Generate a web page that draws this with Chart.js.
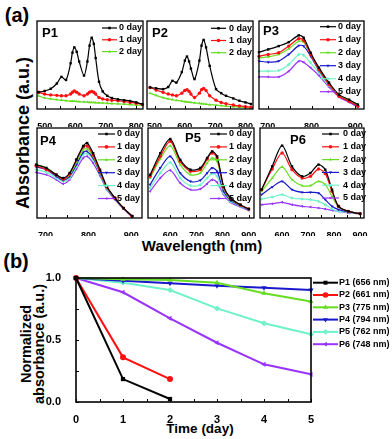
<!DOCTYPE html>
<html>
<head>
<meta charset="utf-8">
<script src="https://cdn.jsdelivr.net/npm/chart.js@4.4.1/dist/chart.umd.min.js"></script>
<style>
  html, body { margin: 0; padding: 0; background: #fff; }
  body { width: 392px; height: 439px; position: relative; overflow: hidden;
         font-family: 'Liberation Sans', Arial, sans-serif; font-weight: bold; color: #000; }
  canvas { position: absolute; }
  .lbl { position: absolute; white-space: nowrap; transform: translate(-50%, -50%); }
  .rot { transform: translate(-50%, -50%) rotate(-90deg); text-align: center; }
</style>
</head>
<body>
<div class="lbl" style="left:17px;top:15px;font-size:20px">(a)</div>
<div class="lbl" style="left:16px;top:261px;font-size:20px">(b)</div>
<div class="lbl rot" style="left:23px;top:133px;font-size:18px">Absorbance (a.u.)</div>
<div class="lbl" style="left:202px;top:245px;font-size:15px">Wavelength (nm)</div>
<div class="lbl" style="left:200px;top:428px;font-size:13.5px">Time (day)</div>
<div class="lbl rot" style="left:33px;top:344px;font-size:14.5px;line-height:13px">Normalized<br>absorbance (a.u.)</div>
<canvas id="p1"></canvas>
<canvas id="p2"></canvas>
<canvas id="p3"></canvas>
<canvas id="p4"></canvas>
<canvas id="p5"></canvas>
<canvas id="p6"></canvas>
<canvas id="decay"></canvas>
<script>
// ---- data (a): absorbance spectra, fraction of panel height ----
const dayLabels = ['0 day', '1 day', '2 day', '3 day', '4 day', '5 day'];

const p1Wl = [480, 500, 520, 540, 555, 570, 585, 591, 597, 605, 613, 629, 640, 647, 654, 661, 667, 678, 690, 705, 720, 740, 760, 780, 800, 820];
const p1Abs = [
    [0.19, 0.205, 0.23, 0.29, 0.365, 0.33, 0.52, 0.64, 0.70, 0.65, 0.54, 0.38, 0.54, 0.72, 0.81, 0.74, 0.58, 0.31, 0.20, 0.15, 0.125, 0.11, 0.10, 0.09, 0.075, 0.055],
    [0.19, 0.17, 0.16, 0.155, 0.15, 0.15, 0.17, 0.19, 0.205, 0.19, 0.17, 0.15, 0.17, 0.19, 0.20, 0.19, 0.17, 0.13, 0.115, 0.105, 0.10, 0.095, 0.085, 0.075, 0.065, 0.05],
    [0.15, 0.125, 0.115, 0.105, 0.10, 0.095, 0.09, 0.089, 0.088, 0.086, 0.084, 0.08, 0.078, 0.076, 0.075, 0.074, 0.072, 0.07, 0.068, 0.065, 0.062, 0.058, 0.055, 0.05, 0.045, 0.04]
];
const p1Ticks = [500, 600, 700, 800];

const p2Wl = [485, 505, 528, 545, 559, 572, 590, 600, 607, 614, 620, 632, 648, 655, 662, 670, 682, 703, 720, 736, 760, 780, 800, 818];
const p2Abs = [
    [0.245, 0.235, 0.226, 0.25, 0.32, 0.30, 0.42, 0.55, 0.596, 0.54, 0.46, 0.34, 0.55, 0.72, 0.785, 0.70, 0.49, 0.226, 0.18, 0.15, 0.12, 0.094, 0.075, 0.057],
    [0.245, 0.215, 0.19, 0.17, 0.16, 0.15, 0.18, 0.21, 0.22, 0.20, 0.17, 0.13, 0.18, 0.22, 0.234, 0.21, 0.15, 0.10, 0.075, 0.06, 0.045, 0.035, 0.027, 0.02],
    [0.18, 0.155, 0.13, 0.115, 0.105, 0.098, 0.09, 0.083, 0.08, 0.077, 0.075, 0.07, 0.064, 0.061, 0.058, 0.055, 0.05, 0.043, 0.038, 0.033, 0.027, 0.02, 0.015, 0.01]
];
const p2Ticks = [500, 600, 700, 800];

const p3Wl = [680, 701, 725, 748, 771, 782, 798, 817, 840, 863, 886, 906];
const p3Abs = [
    [0.646, 0.677, 0.715, 0.76, 0.837, 0.81, 0.64, 0.47, 0.30, 0.163, 0.106, 0.05],
    [0.60, 0.62, 0.64, 0.715, 0.80, 0.78, 0.62, 0.45, 0.28, 0.145, 0.087, 0.03],
    [0.58, 0.593, 0.62, 0.684, 0.77, 0.76, 0.62, 0.45, 0.28, 0.152, 0.095, 0.05],
    [0.544, 0.532, 0.544, 0.62, 0.72, 0.715, 0.60, 0.437, 0.28, 0.145, 0.087, 0.03],
    [0.43, 0.43, 0.437, 0.506, 0.62, 0.61, 0.525, 0.41, 0.266, 0.152, 0.095, 0.038],
    [0.365, 0.365, 0.365, 0.43, 0.544, 0.532, 0.468, 0.38, 0.25, 0.137, 0.076, 0.023]
];
const p3Ticks = [700, 800, 900];

const p4Wl = [678, 702, 725, 741, 756, 772, 788, 797, 811, 827, 843, 862, 882, 902];
const p4Abs = [
    [0.593, 0.556, 0.48, 0.444, 0.50, 0.648, 0.80, 0.833, 0.72, 0.537, 0.35, 0.222, 0.11, 0.02],
    [0.58, 0.537, 0.48, 0.433, 0.49, 0.648, 0.79, 0.80, 0.70, 0.52, 0.344, 0.222, 0.11, 0.02],
    [0.593, 0.556, 0.48, 0.433, 0.48, 0.62, 0.76, 0.767, 0.685, 0.507, 0.333, 0.222, 0.107, 0.02],
    [0.567, 0.537, 0.463, 0.42, 0.463, 0.593, 0.73, 0.74, 0.667, 0.50, 0.333, 0.211, 0.107, 0.02],
    [0.537, 0.507, 0.444, 0.407, 0.444, 0.574, 0.704, 0.715, 0.648, 0.493, 0.322, 0.211, 0.107, 0.02],
    [0.507, 0.48, 0.426, 0.38, 0.426, 0.544, 0.667, 0.685, 0.61, 0.47, 0.315, 0.204, 0.10, 0.011]
];
const p4Ticks = [700, 800, 900];

const p5Wl = [523, 562, 600, 638, 677, 715, 741, 760, 779, 804, 830, 868, 900];
const p5Abs = [
    [0.48, 0.72, 0.878, 0.648, 0.537, 0.556, 0.667, 0.74, 0.685, 0.352, 0.222, 0.148, 0.10],
    [0.463, 0.685, 0.852, 0.63, 0.52, 0.537, 0.656, 0.722, 0.667, 0.344, 0.219, 0.144, 0.10],
    [0.444, 0.656, 0.804, 0.593, 0.481, 0.50, 0.611, 0.667, 0.63, 0.333, 0.211, 0.14, 0.10],
    [0.37, 0.556, 0.685, 0.50, 0.407, 0.419, 0.50, 0.556, 0.519, 0.296, 0.196, 0.137, 0.093],
    [0.333, 0.50, 0.618, 0.444, 0.36, 0.37, 0.444, 0.493, 0.463, 0.278, 0.185, 0.13, 0.093],
    [0.296, 0.444, 0.53, 0.389, 0.315, 0.322, 0.381, 0.426, 0.396, 0.26, 0.174, 0.122, 0.085]
];
const p5Ticks = [600, 700, 800, 900];

const p6Wl = [521, 562, 600, 638, 677, 709, 740, 766, 792, 817, 855, 900];
const p6Abs = [
    [0.315, 0.574, 0.804, 0.574, 0.463, 0.50, 0.593, 0.537, 0.315, 0.13, 0.074, 0.048],
    [0.315, 0.544, 0.722, 0.537, 0.444, 0.463, 0.544, 0.493, 0.296, 0.13, 0.074, 0.048],
    [0.296, 0.444, 0.567, 0.426, 0.36, 0.36, 0.407, 0.37, 0.24, 0.122, 0.074, 0.048],
    [0.26, 0.344, 0.407, 0.315, 0.285, 0.285, 0.278, 0.204, 0.13, 0.093, 0.07, 0.048],
    [0.211, 0.233, 0.26, 0.222, 0.211, 0.204, 0.185, 0.148, 0.10, 0.074, 0.063, 0.044],
    [0.148, 0.159, 0.174, 0.148, 0.13, 0.122, 0.111, 0.10, 0.085, 0.074, 0.056, 0.044]
];
const p6Ticks = [600, 700, 800, 900];

// ---- data (b): normalized absorbance vs time ----
const timeDays = [0, 1, 2, 3, 4, 5];
const decayLabels = ['P1 (656 nm)', 'P2 (661 nm)', 'P3 (775 nm)', 'P4 (794 nm)', 'P5 (762 nm)', 'P6 (748 nm)'];
const decayP1 = [1, 0.185, 0.024];
const decayP2 = [1, 0.36, 0.185];
const decayP3 = [1, 0.99, 0.984, 0.962, 0.877, 0.81];
const decayP4 = [1, 0.978, 0.957, 0.938, 0.922, 0.903];
const decayP5 = [1, 0.962, 0.903, 0.755, 0.635, 0.546];
const decayP6 = [1, 0.885, 0.675, 0.478, 0.304, 0.223];
const decayTicksX = [0, 1, 2, 3, 4, 5];
const decayTicksY = [0, 0.5, 1];

// ---- styles ----
const colors = ['#000000', '#ff1010', '#66dd22', '#1a1acc', '#70f2c8', '#9933ff'];
const markers = ['rect', 'circle', 'triangle', 'triangle', 'rectRot', 'triangle'];
const markerRot = [0, 0, 0, 180, 0, -90];
const FONT = "'Liberation Sans', Arial, sans-serif";

function drawMarker(ctx, style, rot, r, x, y) {
    if (Chart.helpers && Chart.helpers.drawPoint) {
        Chart.helpers.drawPoint(ctx, {pointStyle: style, rotation: rot, radius: r, borderWidth: 0}, x, y);
    } else {
        ctx.beginPath(); ctx.arc(x, y, r, 0, Math.PI * 2); ctx.fill();
    }
}

// box, inward ticks, panel tag and legend
const framePlugin = {
    id: 'frame',
    afterDatasetsDraw(chart, args, o) {
        const {ctx, chartArea: a, scales: {x, y}} = chart;
        ctx.save();
        ctx.strokeStyle = '#000';
        ctx.lineWidth = o.lineWidth;
        ctx.strokeRect(a.left, a.top, a.right - a.left, a.bottom - a.top);
        ctx.lineWidth = 1;
        ctx.beginPath();
        for (let v = Math.ceil(x.min / o.xStep - 1e-9) * o.xStep; v <= x.max + 1e-9; v += o.xStep) {
            const px = Math.round(x.getPixelForValue(v)) + 0.5;
            ctx.moveTo(px, a.bottom); ctx.lineTo(px, a.bottom - o.len);
        }
        if (o.yStep) {
            for (let v = y.min; v <= y.max + 1e-9; v += o.yStep) {
                const py = Math.round(y.getPixelForValue(v)) + 0.5;
                ctx.moveTo(a.left, py); ctx.lineTo(a.left + o.len, py);
            }
        }
        ctx.stroke();
        ctx.fillStyle = '#000';
        ctx.textBaseline = 'middle';
        ctx.textAlign = 'left';
        if (o.tag) {
            ctx.font = 'bold 13px ' + FONT;
            ctx.fillText(o.tag.text, a.left + o.tag.x, a.top + o.tag.y);
        }
        const L = o.legend;
        chart.data.datasets.forEach((ds, i) => {
            const lx = a.left + L.x, ly = a.top + L.y + i * L.dy;
            ctx.strokeStyle = ds.borderColor;
            ctx.lineWidth = ds.borderWidth;
            ctx.beginPath(); ctx.moveTo(lx, ly); ctx.lineTo(lx + L.len, ly); ctx.stroke();
            ctx.fillStyle = ds.backgroundColor;
            drawMarker(ctx, ds.pointStyle, ds.pointRotation, L.r, lx + L.len / 2, ly);
            ctx.fillStyle = '#000';
            ctx.font = 'bold 9px ' + FONT;
            ctx.fillText(ds.label, lx + L.len + L.gap, ly);
        });
        ctx.restore();
    }
};

function spectrumPanel(id, box, wl, curves, xMin, xMax, ticks, tag, legend) {
    const padX = 12, padTop = 4, axisH = 18;
    const canvas = document.getElementById(id);
    canvas.width = box.w + 2 * padX;
    canvas.height = box.h + padTop + axisH;
    canvas.style.left = (box.x - padX) + 'px';
    canvas.style.top = (box.y - padTop) + 'px';
    new Chart(canvas, {
        type: 'line',
        data: {
            datasets: curves.map((vals, i) => ({
                label: dayLabels[i],
                data: wl.map((w, j) => ({x: w, y: vals[j]})),
                borderColor: colors[i],
                backgroundColor: colors[i],
                borderWidth: 1.2,
                pointRadius: 1.7,
                pointBorderWidth: 0,
                pointStyle: markers[i],
                pointRotation: markerRot[i],
                tension: 0.3,
                clip: false
            }))
        },
        options: {
            responsive: false,
            animation: false,
            devicePixelRatio: 1,
            layout: {padding: {left: padX, right: padX, top: padTop, bottom: 0}},
            plugins: {
                legend: {display: false},
                tooltip: {enabled: false},
                frame: {lineWidth: 1.3, xStep: 50, len: 3, tag: tag, legend: legend}
            },
            scales: {
                x: {
                    type: 'linear', min: xMin, max: xMax,
                    afterFit: s => { s.height = axisH; },
                    afterBuildTicks: s => { s.ticks = ticks.map(v => ({value: v})); },
                    grid: {display: false},
                    border: {display: false},
                    ticks: {font: {family: FONT, size: 9, weight: 'bold'}, color: '#000', padding: 4, maxRotation: 0, autoSkip: false}
                },
                y: {display: false, min: 0, max: 1}
            }
        },
        plugins: [framePlugin]
    });
}

spectrumPanel('p1', {x: 37, y: 21, w: 106, h: 88}, p1Wl, p1Abs, 475, 822, p1Ticks,
    {text: 'P1', x: 5, y: 12}, {x: 65, y: 7, dy: 11.8, len: 15, gap: 2, r: 1.8});
spectrumPanel('p2', {x: 147, y: 21, w: 106, h: 88}, p2Wl, p2Abs, 475, 825, p2Ticks,
    {text: 'P2', x: 5, y: 12}, {x: 64, y: 7.3, dy: 12.2, len: 15, gap: 3, r: 1.8});
spectrumPanel('p3', {x: 259, y: 21, w: 105, h: 88}, p3Wl, p3Abs, 680, 920, p3Ticks,
    {text: 'P3', x: 4, y: 10}, {x: 61, y: 5.7, dy: 13, len: 16, gap: 2, r: 1.8});
spectrumPanel('p4', {x: 37, y: 128, w: 105, h: 90}, p4Wl, p4Abs, 680, 925, p4Ticks,
    {text: 'P4', x: 3, y: 13}, {x: 61, y: 6, dy: 12.9, len: 17, gap: 2, r: 1.8});
spectrumPanel('p5', {x: 148, y: 128, w: 106, h: 90}, p5Wl, p5Abs, 515, 920, p5Ticks,
    {text: 'P5', x: 37, y: 10}, {x: 62, y: 6, dy: 12.9, len: 17, gap: 2, r: 1.8});
spectrumPanel('p6', {x: 260, y: 128, w: 104, h: 90}, p6Wl, p6Abs, 515, 915, p6Ticks,
    {text: 'P6', x: 30, y: 12}, {x: 62, y: 6, dy: 12.8, len: 17, gap: 4, r: 1.8});

// ---- panel (b) ----
const decayData = [decayP1, decayP2, decayP3, decayP4, decayP5, decayP6];
const decayCanvas = document.getElementById('decay');
decayCanvas.width = 392;
decayCanvas.height = 177;
decayCanvas.style.left = '0px';
decayCanvas.style.top = '262px';
new Chart(decayCanvas, {
    type: 'line',
    data: {
        datasets: decayData.map((vals, i) => ({
            label: decayLabels[i],
            data: vals.map((v, j) => ({x: timeDays[j], y: v})),
            borderColor: colors[i],
            backgroundColor: colors[i],
            borderWidth: 2,
            pointRadius: 3,
            pointBorderWidth: 0,
            pointStyle: markers[i],
            pointRotation: markerRot[i],
            tension: 0,
            clip: false
        }))
    },
    options: {
        responsive: false,
        animation: false,
        devicePixelRatio: 1,
        layout: {padding: {left: 0, right: 81, top: 16, bottom: 0}},
        plugins: {
            legend: {display: false},
            tooltip: {enabled: false},
            frame: {lineWidth: 1.6, xStep: 0.5, yStep: 0.25, len: 3,
                legend: {x: 237, y: 4.7, dy: 12.3, len: 25, gap: 1, r: 2.8}}
        },
        scales: {
            x: {
                type: 'linear', min: 0, max: 5,
                afterFit: s => { s.height = 37; },
                afterBuildTicks: s => { s.ticks = decayTicksX.map(v => ({value: v})); },
                grid: {display: false},
                border: {display: false},
                ticks: {font: {family: FONT, size: 11, weight: 'bold'}, color: '#000', padding: 3, maxRotation: 0, autoSkip: false}
            },
            y: {
                min: 0, max: 1,
                afterFit: s => { s.width = 76; },
                afterBuildTicks: s => { s.ticks = decayTicksY.map(v => ({value: v})); },
                grid: {display: false},
                border: {display: false},
                ticks: {font: {family: FONT, size: 11, weight: 'bold'}, color: '#000', padding: 7,
                    callback: v => v.toFixed(1)}
            }
        }
    },
    plugins: [framePlugin]
});
</script>
</body>
</html>
